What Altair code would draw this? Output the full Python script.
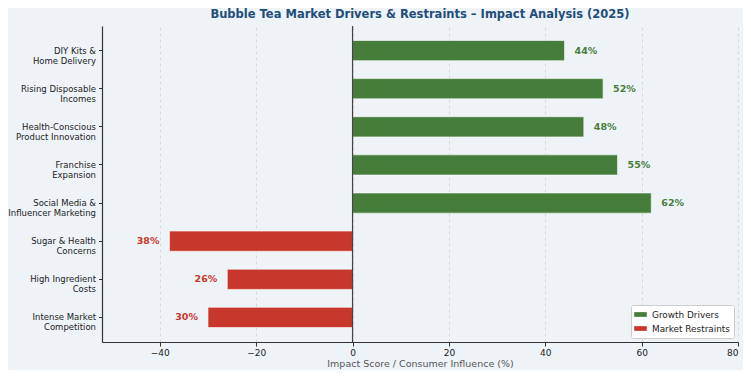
import altair as alt
import pandas as pd

factors = [
    "DIY Kits &\nHome Delivery",
    "Rising Disposable\nIncomes",
    "Health-Conscious\nProduct Innovation",
    "Franchise\nExpansion",
    "Social Media &\nInfluencer Marketing",
    "Sugar & Health\nConcerns",
    "High Ingredient\nCosts",
    "Intense Market\nCompetition",
]
impact = [44, 52, 48, 55, 62, -38, -26, -30]
kind = ["Growth Drivers"] * 5 + ["Market Restraints"] * 3
labels = ["44%", "52%", "48%", "55%", "62%", "38%", "26%", "30%"]
x_ticks = [-40, -20, 0, 20, 40, 60, 80]

df = pd.DataFrame({"factor": factors, "impact": impact, "kind": kind, "label": labels})

GREEN = "#477d3b"
RED = "#c8372b"
FONT = "DejaVu Sans"

color = alt.Color(
    "kind:N",
    scale=alt.Scale(domain=["Growth Drivers", "Market Restraints"], range=[GREEN, RED]),
    legend=alt.Legend(
        title=None,
        orient="bottom-right",
        offset=4,
        fillColor="white",
        strokeColor="#cccccc",
        padding=4,
        cornerRadius=2,
        symbolType="M-1.2,-0.45H1.2V0.45H-1.2Z",
        symbolSize=110,
        symbolStrokeWidth=0,
        labelFont=FONT,
        labelFontSize=8.9,
        labelColor="#222222",
        labelOffset=6,
        rowPadding=3,
    ),
)

y = alt.Y(
    "factor:N",
    sort=factors,
    scale=alt.Scale(paddingInner=0.47, paddingOuter=0.38),
    axis=alt.Axis(
        title=None,
        labelExpr="split(datum.label, '\\n')",
        labelFont=FONT,
        labelFontSize=8.5,
        labelColor="#222222",
        labelAlign="right",
        labelPadding=3,
        tickSize=3.5,
        tickColor="#333333",
        domainColor="#333333",
        domainWidth=1.2,
        grid=False,
        labelLineHeight=10,
    ),
)

x = alt.X(
    "impact:Q",
    scale=alt.Scale(domain=[-52, 80], nice=False, zero=False),
    axis=alt.Axis(
        title="Impact Score / Consumer Influence (%)",
        titleFont=FONT,
        titleFontSize=9.5,
        titleFontWeight="normal",
        titleColor="#555555",
        titlePadding=1,
        values=x_ticks,
        labelFont=FONT,
        labelFontSize=9,
        labelColor="#222222",
        labelPadding=2,
        tickSize=4,
        tickColor="#333333",
        domainColor="#333333",
        domainWidth=1.2,
        grid=True,
        gridColor="#d0d0d0",
        gridDash=[3, 3],
        gridWidth=0.8,
    ),
)

bars = alt.Chart(df).mark_bar(stroke="white", strokeWidth=0.6).encode(y=y, x=x, color=color)

pos_text = alt.Chart(df).transform_filter("datum.impact > 0").mark_text(
    align="left", dx=10, font=FONT, fontSize=9.5, fontWeight="bold", color=GREEN
).encode(y=alt.Y("factor:N", sort=factors), x="impact:Q", text="label:N")

neg_text = alt.Chart(df).transform_filter("datum.impact < 0").mark_text(
    align="right", dx=-10, font=FONT, fontSize=9.5, fontWeight="bold", color=RED
).encode(y=alt.Y("factor:N", sort=factors), x="impact:Q", text="label:N")

zero = alt.Chart(pd.DataFrame({"z": [0]})).mark_rule(color="#444444", strokeWidth=1.2).encode(x="z:Q")

chart = (
    alt.layer(bars, zero, pos_text, neg_text)
    .properties(
        width=636,
        height=316,
        background="#eef3f8",
        padding={"left": 94, "top": 18, "right": 5, "bottom": 28},
        autosize=alt.AutoSizeParams(type="none"),
        title=alt.TitleParams(
            "Bubble Tea Market Drivers & Restraints \u2013 Impact Analysis (2025)",
            font=FONT,
            fontSize=11.5,
            fontWeight="bold",
            color="#1f4e79",
            anchor="middle",
            offset=5,
        ),
    )
    .configure_view(stroke=None, fill="#eef3f8")
)

chart.save("out.html", embed_options={"renderer": "svg", "actions": False})
